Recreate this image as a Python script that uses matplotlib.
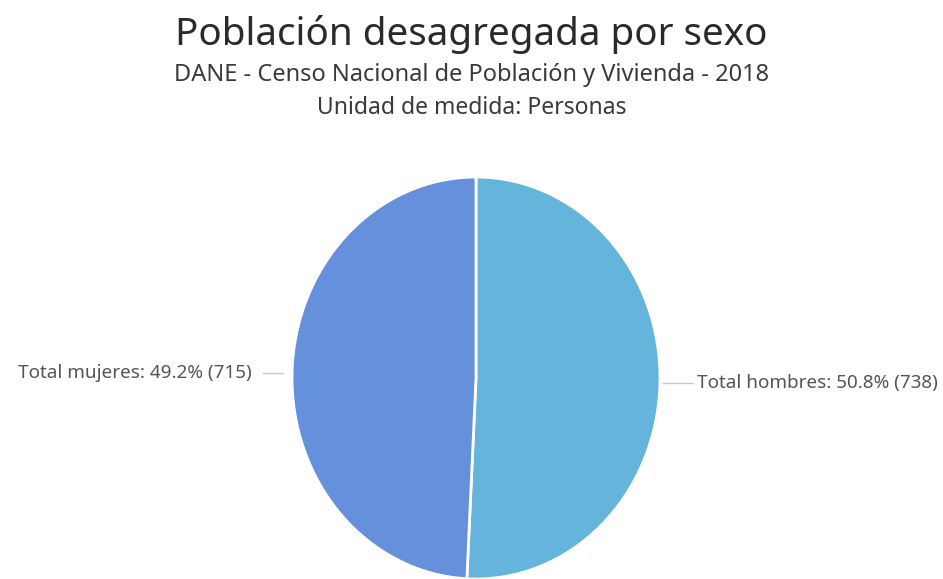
import numpy as np
import matplotlib
matplotlib.use("Agg")
import matplotlib.pyplot as plt

# Datos del gráfico
categorias = ["Total hombres", "Total mujeres"]
valores = [738, 715]
colores = ["#64B4DC", "#6591DC"]

titulo = "Población desagregada por sexo"
subtitulo1 = "DANE - Censo Nacional de Población y Vivienda - 2018"
subtitulo2 = "Unidad de medida: Personas"

plt.rcParams['font.family'] = ['Noto Sans', 'DejaVu Sans']

fig = plt.figure(figsize=(9.43, 5.79), dpi=100)
fig.patch.set_facecolor("white")

# Ejes colocados para que la torta quede como en la referencia (algo elíptica)
ax = fig.add_axes([292 / 943, 0, 368 / 943, 402 / 579])
wedges, _ = ax.pie(valores, colors=colores, startangle=90, counterclock=False,
                   wedgeprops=dict(edgecolor="white", linewidth=2))
ax.set_aspect('auto')
ax.set_xlim(-1, 1)
ax.set_ylim(-1, 1)

total = sum(valores)
for w, cat, v in zip(wedges, categorias, valores):
    ang = np.deg2rad((w.theta1 + w.theta2) / 2)
    y = np.sin(ang)
    lado = np.sign(np.cos(ang))
    if lado > 0:
        x0, x1, xt = 1.016, 1.179, 1.20
    else:
        x0, x1, xt = -1.049, -1.158, -1.22
    ax.plot([x0, x1], [y, y], color="#C8C8C8", lw=1, clip_on=False)
    etiqueta = f"{cat}: {100 * v / total:.1f}% ({v})"
    ax.text(xt, y, etiqueta, ha="left" if lado > 0 else "right",
            va="center", fontsize=13.6, color="#555555", clip_on=False)

fig.text(0.5, 1 - 34 / 579, titulo, ha="center", va="center", fontsize=27.8, color="#2A2A2A")
fig.text(0.5, 1 - 75 / 579, subtitulo1, ha="center", va="center", fontsize=17, color="#3A3A3A")
fig.text(0.5, 1 - 108 / 579, subtitulo2, ha="center", va="center", fontsize=16.5, color="#3A3A3A")

fig.savefig("out.png", dpi=100)
